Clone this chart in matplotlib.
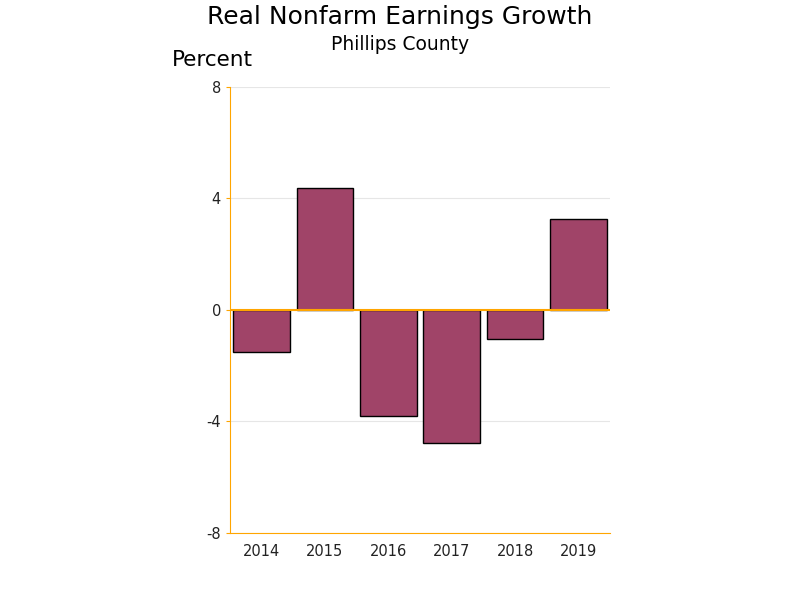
import matplotlib
matplotlib.use("Agg")
import matplotlib.pyplot as plt

plt.rcParams["axes.unicode_minus"] = False

years = ["2014", "2015", "2016", "2017", "2018", "2019"]
growth = [-1.5, 4.38, -3.8, -4.77, -1.05, 3.27]
yticks = [-8, -4, 0, 4, 8]

bar_color = "#A04468"
axis_color = "#FFA500"

fig = plt.figure(figsize=(8, 6), dpi=100)
ax = fig.add_axes([0.2875, 0.112, 0.475, 0.743])

x = list(range(len(years)))
ax.bar(x, growth, width=0.89, color=bar_color, edgecolor="black", linewidth=1, zorder=3)
ax.axhline(0, color=axis_color, linewidth=1.5, zorder=4)

ax.set_xlim(-0.5, len(years) - 0.5)
ax.set_ylim(-8, 8)
ax.set_yticks(yticks)
ax.set_xticks(x)
ax.set_xticklabels(years)
ax.yaxis.grid(True, color="#e6e6e6", linewidth=0.8, zorder=0)

for s in ["top", "right"]:
    ax.spines[s].set_visible(False)
ax.spines["left"].set_color(axis_color)
ax.spines["bottom"].set_color(axis_color)
ax.tick_params(axis="y", colors=axis_color, labelcolor="#222222", labelsize=10.5, length=3)
ax.tick_params(axis="x", length=0, labelcolor="#222222", labelsize=10.5, pad=8)

fig.text(0.5, 0.972, "Real Nonfarm Earnings Growth", ha="center", va="center", fontsize=18)
fig.text(0.5, 0.925, "Phillips County", ha="center", va="center", fontsize=13.5)
fig.text(0.265, 0.9, "Percent", ha="center", va="center", fontsize=15.5)

fig.savefig("out.png", dpi=100)
